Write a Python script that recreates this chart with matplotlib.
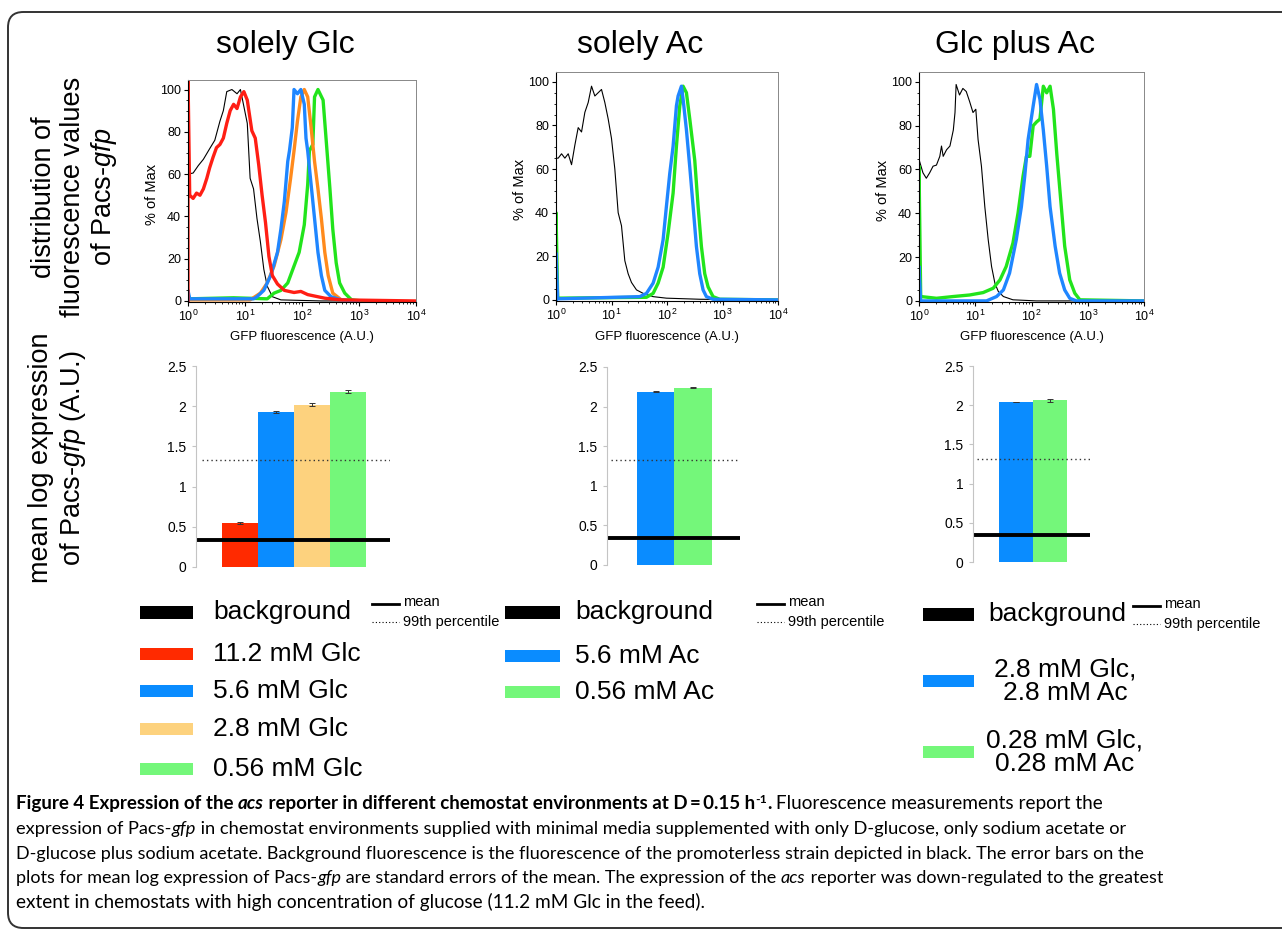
import numpy as np
import matplotlib
matplotlib.use('Agg')
import matplotlib.pyplot as plt
from matplotlib.patches import Rectangle, FancyBboxPatch
from matplotlib.lines import Line2D
from matplotlib.ticker import LogLocator, MultipleLocator, FixedLocator, FixedFormatter, NullFormatter

plt.rcParams['font.family'] = ['Liberation Sans', 'DejaVu Sans']
plt.rcParams['mathtext.fontset'] = 'custom'
plt.rcParams['mathtext.rm'] = 'Liberation Sans'
plt.rcParams['mathtext.it'] = 'Liberation Sans:italic'
plt.rcParams['mathtext.bf'] = 'Liberation Sans:bold'

W, H = 1282, 931

# ---- histogram data: log10(GFP fluorescence), % of max ----
# solely Glc
g_black_x = [0, 0, 0.09, 0.18, 0.27, 0.38, 0.47, 0.56, 0.62, 0.68, 0.77, 0.86, 0.92, 0.98, 1.04, 1.09, 1.15, 1.21, 1.27, 1.33, 1.39, 1.48, 1.63, 2.34, 4.0]
g_black_y = [0, 60, 60.5, 64, 67, 72, 76, 85, 90, 99, 100, 98, 100, 92, 84, 58, 53, 39, 28, 15, 7, 2, 0.5, 0, 0]
g_red_x = [0, 0, 0.03, 0.09, 0.15, 0.21, 0.27, 0.33, 0.38, 0.44, 0.50, 0.56, 0.62, 0.68, 0.74, 0.80, 0.86, 0.92, 0.98, 1.04, 1.12, 1.18, 1.24, 1.30, 1.36, 1.42, 1.48, 1.57, 1.69, 1.86, 1.98, 2.10, 2.40, 2.69, 4.0]
g_red_y = [0, 106, 50, 48.5, 51, 50, 53, 58, 63, 68, 72.5, 74, 77, 84, 90, 93, 91, 96.5, 99, 95, 80.5, 77, 64.5, 50, 37, 21, 12, 8, 5, 4, 4.5, 3, 1.3, 0.5, 0]
g_orange_x = [0.03, 1.09, 1.27, 1.39, 1.51, 1.63, 1.72, 1.80, 1.86, 1.92, 1.98, 2.04, 2.10, 2.16, 2.22, 2.28, 2.34, 2.40, 2.46, 2.54, 2.69, 3.0]
g_orange_y = [0.5, 0.5, 3.7, 8.5, 16.5, 29, 42, 58, 71, 85, 96.5, 100, 96.5, 82, 66, 53, 39, 23, 12, 3.7, 0.5, 0]
g_green_x = [0, 0, 0.03, 0.8, 1.39, 1.51, 1.63, 1.75, 1.86, 1.95, 2.04, 2.10, 2.13, 2.19, 2.22, 2.28, 2.37, 2.43, 2.49, 2.54, 2.60, 2.66, 2.75, 2.87, 3.05]
g_green_y = [0, 3, 1, 1.5, 1, 3.7, 5, 8.5, 16.5, 23, 36, 55, 71, 74, 96.5, 100, 95, 74, 53, 34, 18, 8.5, 3.7, 0.5, 0]
g_blue_x = [0, 0, 0.03, 1.15, 1.21, 1.33, 1.45, 1.57, 1.63, 1.69, 1.75, 1.78, 1.83, 1.86, 1.92, 1.98, 2.04, 2.07, 2.10, 2.16, 2.22, 2.28, 2.34, 2.40, 2.51, 2.69, 3.0]
g_blue_y = [0, 5, 1, 1, 2, 5, 12, 23, 34, 47, 66, 71, 82, 100, 98, 100, 93, 77, 71, 55, 39, 23, 12, 5, 2, 0.5, 0]

# solely Ac
a_black_x = [0, 0, 0.04, 0.10, 0.16, 0.22, 0.28, 0.34, 0.40, 0.46, 0.52, 0.58, 0.64, 0.70, 0.76, 0.82, 0.88, 0.94, 1.00, 1.06, 1.12, 1.18, 1.24, 1.30, 1.36, 1.45, 1.57, 1.75, 1.99, 2.59, 4.0]
a_black_y = [0, 65, 65, 67, 65, 67, 62, 71, 79, 77, 86, 90.5, 98, 93.5, 95, 96.5, 90.5, 83, 74, 60, 40, 34, 18, 12, 8, 4.6, 3, 1.5, 0.8, 0.3, 0]
a_green_x = [0, 0, 0.03, 1.63, 1.75, 1.84, 1.93, 2.02, 2.11, 2.17, 2.23, 2.29, 2.35, 2.41, 2.50, 2.56, 2.62, 2.68, 2.74, 2.83, 2.95, 4.0]
a_green_y = [0, 40, 0.8, 1.2, 3, 7.7, 15, 30.7, 49, 70.5, 89, 98, 95, 83, 64, 43, 24.5, 12, 6, 1.5, 0.3, 0]
a_blue_x = [0, 0, 0.03, 1.51, 1.63, 1.75, 1.84, 1.93, 1.99, 2.05, 2.11, 2.17, 2.20, 2.26, 2.29, 2.35, 2.41, 2.47, 2.53, 2.59, 2.65, 2.71, 2.83, 4.0]
a_blue_y = [0, 21.5, 0.5, 1.5, 3, 7.7, 15, 27.6, 43, 58, 70.5, 89, 93.5, 98, 92, 78, 61, 43, 24.5, 12, 4.6, 1.5, 0.3, 0]

# Glc plus Ac
m_black_x = [0, 0, 0.07, 0.13, 0.19, 0.25, 0.31, 0.37, 0.40, 0.43, 0.49, 0.55, 0.61, 0.64, 0.66, 0.72, 0.78, 0.84, 0.90, 0.96, 1.01, 1.05, 1.11, 1.17, 1.23, 1.29, 1.35, 1.41, 1.50, 1.67, 2.09, 4.0]
m_black_y = [0, 64.6, 58.5, 56, 58.5, 61.5, 62, 66, 70.7, 66, 69, 70.7, 78, 86, 98.8, 94, 97, 95.6, 91, 86, 87.5, 73.7, 61.5, 43, 28, 15.7, 8, 4.3, 2, 0.5, 0, 0]
m_green_x = [0, 0, 0.03, 0.31, 0.61, 0.90, 1.14, 1.32, 1.44, 1.55, 1.67, 1.76, 1.85, 1.91, 1.97, 2.03, 2.09, 2.15, 2.21, 2.27, 2.33, 2.39, 2.45, 2.53, 2.59, 2.68, 2.77, 2.86, 4.0]
m_green_y = [0, 61.5, 2, 1.2, 2, 2.7, 3.8, 5.8, 9.6, 15.7, 26.4, 40, 57, 66, 66, 80, 81.7, 83, 98, 95, 98, 87.5, 67, 43, 25, 9.6, 3.5, 0.5, 0]
m_blue_x = [0, 0, 0.03, 1.20, 1.38, 1.50, 1.61, 1.73, 1.82, 1.88, 1.94, 2.03, 2.09, 2.15, 2.21, 2.27, 2.33, 2.42, 2.50, 2.59, 2.68, 2.80, 4.0]
m_blue_y = [0, 15.7, 0, 0, 2, 5, 12.7, 28, 43, 57, 73.7, 89, 98.8, 92, 78, 61.5, 43, 25, 12.7, 5, 1.2, 0, 0]

# ---- bar data: mean log expression ----
glc_vals = [0.55, 1.93, 2.02, 2.18]
glc_err = [0.01, 0.015, 0.015, 0.02]
ac_vals = [2.19, 2.24]
ac_err = [0.008, 0.008]
mix_vals = [2.04, 2.06]
mix_err = [0.005, 0.015]
bg_mean = [0.34, 0.34, 0.345]
bg_p99 = [1.33, 1.33, 1.31]

titles = ['solely Glc', 'solely Ac', 'Glc plus Ac']
glc_labels = ['11.2 mM Glc', '5.6 mM Glc', '2.8 mM Glc', '0.56 mM Glc']
ac_labels = ['5.6 mM Ac', '0.56 mM Ac']
mix_labels = ['2.8 mM Glc,\n2.8 mM Ac', '0.28 mM Glc,\n0.28 mM Ac']

hred, hblue, horange, hgreen = '#ff1e14', '#1f86ff', '#ff8a1c', '#22e41c'
bred, bblue, borange, bgreen = '#ff2a00', '#0a8cff', '#fdd27e', '#74f77a'

fig = plt.figure(figsize=(W / 100, H / 100), dpi=100)


def px_axes(l, t, r, b):
    return fig.add_axes([l / W, 1 - b / H, (r - l) / W, (b - t) / H])


def ftext(x, y, s, **kw):
    return fig.text(x / W, 1 - y / H, s, **kw)


# outer rounded frame
fig.add_artist(FancyBboxPatch((8 / W, 1 - 928 / H), 1300 / W, 916 / H,
                              boxstyle='round,pad=0,rounding_size=0.012',
                              transform=fig.transFigure, fill=False,
                              ec='#333333', lw=1.4, mutation_aspect=W / H))

# column titles
for cx, t in zip([285, 640, 1015], titles):
    ftext(cx, 45, t, ha='center', va='center', fontsize=23)

# row labels
ftext(75, 197, 'distribution of\nfluorescence values\nof Pacs-$\\mathit{gfp}$',
      rotation=90, ha='center', va='center', fontsize=19.5, linespacing=1.15)
ftext(58, 458, 'mean log expression\nof Pacs-$\\mathit{gfp}$ (A.U.)',
      rotation=90, ha='center', va='center', fontsize=19.5, linespacing=1.15)

# ---- histograms ----
hists = [
    ((188, 80, 416, 302), [(g_black_x, g_black_y, 'black', 0.8),
                           (g_green_x, g_green_y, hgreen, 2.4),
                           (g_orange_x, g_orange_y, horange, 2.4),
                           (g_blue_x, g_blue_y, hblue, 2.4),
                           (g_red_x, g_red_y, hred, 2.4)]),
    ((556, 72, 778, 301), [(a_black_x, a_black_y, 'black', 0.8),
                           (a_green_x, a_green_y, hgreen, 2.4),
                           (a_blue_x, a_blue_y, hblue, 2.4)]),
    ((919, 72, 1144, 302), [(m_black_x, m_black_y, 'black', 0.8),
                            (m_green_x, m_green_y, hgreen, 2.4),
                            (m_blue_x, m_blue_y, hblue, 2.4)]),
]
for (l, t, r, b), curves in hists:
    ax = px_axes(l, t, r, b)
    for xs, ys, c, lw in curves:
        ax.plot(10 ** np.array(xs), ys, color=c, lw=lw)
    ax.set_xscale('log')
    ax.set_xlim(1, 1e4)
    ax.set_ylim(-0.5, 104.5)
    ax.xaxis.set_major_locator(LogLocator(base=10, numticks=6))
    ax.xaxis.set_minor_locator(LogLocator(base=10, subs=np.arange(2, 10), numticks=20))
    ax.xaxis.set_minor_formatter(NullFormatter())
    ax.yaxis.set_major_locator(MultipleLocator(20))
    ax.yaxis.set_minor_locator(MultipleLocator(5))
    ax.tick_params(labelsize=9, length=3, width=0.8, pad=2)
    ax.tick_params(which='minor', length=1.5, width=0.6)
    for s in ['top', 'right']:
        ax.spines[s].set_color('#888888')
        ax.spines[s].set_linewidth(0.7)
    ftext((l + r) / 2, 337, 'GFP fluorescence (A.U.)', ha='center', va='center', fontsize=9.5)
    ftext(l - 36, (t + b) / 2 + 3, '% of Max', rotation=90, ha='center', va='center', fontsize=10.5)

# ---- bar charts ----
bars = [
    ((196, 366, 390, 567), glc_vals, glc_err, [bred, bblue, borange, bgreen], (-1.22, 4.17)),
    ((607, 367, 740, 565), ac_vals, ac_err, [bblue, bgreen], (-1.3, 2.25)),
    ((973, 366, 1090, 562), mix_vals, mix_err, [bblue, bgreen], (-1.26, 2.18)),
]
for i, ((l, t, r, b), vals, err, cols, xl) in enumerate(bars):
    ax = px_axes(l, t, r, b)
    xs = np.arange(len(vals))
    ax.bar(xs, vals, width=1.0, color=cols, yerr=err, ecolor='#333333',
           capsize=2, error_kw=dict(lw=0.7, capthick=0.7))
    ax.axhline(bg_mean[i], color='black', lw=2.8)
    ax.axhline(bg_p99[i], xmin=0.03, color='#333333', lw=1.0, ls=(0, (1, 2.2)))
    ax.set_xlim(*xl)
    ax.set_ylim(0, 2.5)
    ax.yaxis.set_major_locator(FixedLocator([0, 0.5, 1, 1.5, 2, 2.5]))
    ax.yaxis.set_major_formatter(FixedFormatter(['0', '0.5', '1', '1.5', '2', '2.5']))
    ax.set_xticks([])
    for s in ['top', 'right', 'bottom']:
        ax.spines[s].set_visible(False)
    ax.spines['left'].set_color('#c4c4c4')
    ax.tick_params(axis='y', labelsize=10, length=3, color='#c4c4c4', pad=4)

# ---- legends ----
def patch(x0, x1, yc, h, c):
    fig.add_artist(Rectangle((x0 / W, 1 - (yc + h / 2) / H), (x1 - x0) / W, h / H,
                             transform=fig.transFigure, color=c, lw=0))


def line_key(x0, x1, yc, ls, lw):
    fig.add_artist(Line2D([x0 / W, x1 / W], [1 - yc / H, 1 - yc / H],
                          transform=fig.transFigure, color='black', ls=ls, lw=lw))


legs = [
    (140, 193, 213, [612, 654, 691, 729, 769], ['black', bred, bblue, borange, bgreen],
     ['background'] + glc_labels, 372),
    (505, 560, 575, [612, 656, 692], ['black', bblue, bgreen],
     ['background'] + ac_labels, 757),
    (923, 974, 988, [614, 681, 752], ['black', bblue, bgreen],
     ['background'] + mix_labels, 1133),
]
for x0, x1, tx, ys, cols, labs, mx in legs:
    for j, (y, c, lab) in enumerate(zip(ys, cols, labs)):
        patch(x0, x1, y, 13 if j == 0 else 12, c)
        if '\n' in lab:
            ftext(tx + 77, y, lab, ha='center', va='center', fontsize=19,
                  linespacing=0.95, multialignment='center')
        else:
            ftext(tx, y, lab, ha='left', va='center', fontsize=19)
    line_key(mx, mx + 27, ys[0] - 8, '-', 2)
    line_key(mx, mx + 27, ys[0] + 10, (0, (1, 2)), 0.8)
    ftext(mx + 31, ys[0] - 10, 'mean', ha='left', va='center', fontsize=10.5)
    ftext(mx + 31, ys[0] + 10, '99th percentile', ha='left', va='center', fontsize=10.5)

# ---- caption ----
renderer = fig.canvas.get_renderer()
CAP = 'Lato'


def run_width(txt, **kw):
    a = fig.text(0, 0, txt + '|', **kw)
    w1 = a.get_window_extent(renderer).width
    a.remove()
    a = fig.text(0, 0, '|', **kw)
    w2 = a.get_window_extent(renderer).width
    a.remove()
    return w1 - w2


def draw_runs(x, y, runs, size, bsize, draw=True):
    for txt, weight, style, rise, scale in runs:
        s = (bsize if weight == 'bold' else size) * scale
        kw = dict(family=CAP, fontsize=s, fontweight=weight, fontstyle=style)
        if draw:
            ftext(x, y - rise, txt, va='baseline', ha='left', **kw)
        x += run_width(txt, **kw)
    return x


B, R = 'bold', 'normal'
bold_runs = [('Figure 4 Expression of the ', B, 'normal', 0, 1), ('acs', B, 'italic', 0, 1),
             (' reporter in different chemostat environments at D\u2009=\u20090.15 h', B, 'normal', 0, 1),
             ('-1', B, 'normal', 6, 0.65), ('.', B, 'normal', 0, 1)]
cap_lines = [
    [(' Fluorescence measurements report the', R, 'normal', 0, 1)],
    [('expression of Pacs-', R, 'normal', 0, 1), ('gfp', R, 'italic', 0, 1),
     (' in chemostat environments supplied with minimal media supplemented with only D-glucose, only sodium acetate or', R, 'normal', 0, 1)],
    [('D-glucose plus sodium acetate. Background fluorescence is the fluorescence of the promoterless strain depicted in black. The error bars on the', R, 'normal', 0, 1)],
    [('plots for mean log expression of Pacs-', R, 'normal', 0, 1), ('gfp', R, 'italic', 0, 1),
     (' are standard errors of the mean. The expression of the ', R, 'normal', 0, 1), ('acs', R, 'italic', 0, 1),
     (' reporter was down-regulated to the greatest', R, 'normal', 0, 1)],
    [('extent in chemostats with high concentration of glucose (11.2 mM Glc in the feed).', R, 'normal', 0, 1)],
]
cap_ends = [1112, 1120, 1141, 1158, 722]
cap_base = [809, 834, 859, 883, 908]

w4 = draw_runs(0, 0, cap_lines[3], 13, 13, draw=False)
base_size = 13 * (1158 - 16) / w4
wb = draw_runs(0, 0, bold_runs, 13, 13, draw=False)
bold_size = 13 * (772 - 16) / wb

x_start = [draw_runs(16, cap_base[0], bold_runs, base_size, bold_size), 16, 16, 16, 16]
for x0, y, runs, xe in zip(x_start, cap_base, cap_lines, cap_ends):
    w = draw_runs(0, 0, runs, 13, 13, draw=False)
    s = 13 * (xe - x0) / w
    s = min(max(s, base_size * 0.96), base_size * 1.06)
    draw_runs(x0, y, runs, s, bold_size)

fig.savefig('out.png', dpi=100)
